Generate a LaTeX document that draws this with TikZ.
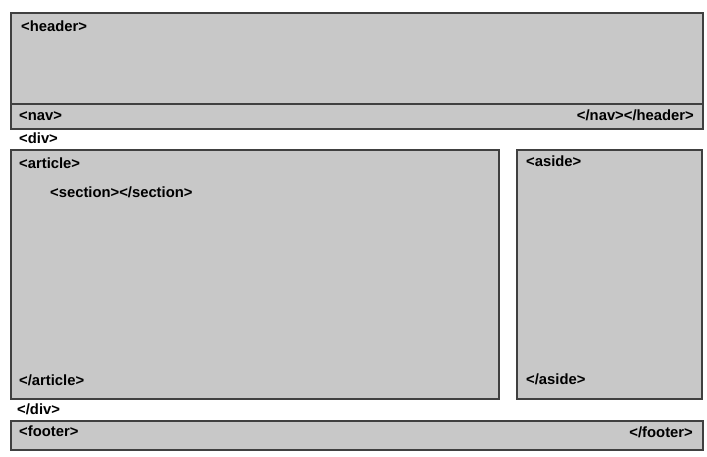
\documentclass[tikz,border=0pt]{standalone}
\usepackage{fontspec}
\setmainfont{Liberation Sans}
\begin{document}
\begin{tikzpicture}[x=1pt,y=-1pt,
  region/.style={draw=boxline, fill=boxfill, line width=1.8pt, inner sep=0pt, anchor=north west},
  tag/.style={font=\fontsize{14.8}{17}\selectfont\bfseries, inner sep=0pt, text=black}]
  \definecolor{boxfill}{HTML}{C8C8C8}
  \definecolor{boxline}{HTML}{404040}
  \useasboundingbox (0,0) rectangle (707,457);
  % page regions
  \node[region, minimum width=692pt, minimum height=91pt] (header) at (10,12) {};
  \node[region, minimum width=692pt, minimum height=25pt] (nav) at (10,103) {};
  \node[region, minimum width=488pt, minimum height=249pt] (article) at (10,149) {};
  \node[region, minimum width=185pt, minimum height=249pt] (aside) at (516,149) {};
  \node[region, minimum width=692pt, minimum height=29pt] (footer) at (10,420) {};
  % opening and closing tags
  \node[tag, anchor=base west] (hopen) at (21,31.5) {<header>};
  \node[tag, anchor=base west] (navopen) at (19,121) {<nav>};
  \node[tag, anchor=base east] (navclose) at (694,121) {</nav></header>};
  \node[tag, anchor=base west] (divopen) at (19,143.5) {<div>};
  \node[tag, anchor=base west] (artopen) at (19,168.5) {<article>};
  \node[tag, anchor=base west] (section) at (50,197.5) {<section></section>};
  \node[tag, anchor=base west] (artclose) at (19,385.5) {</article>};
  \node[tag, anchor=base west] (asopen) at (526,166.5) {<aside>};
  \node[tag, anchor=base west] (asclose) at (526,384.5) {</aside>};
  \node[tag, anchor=base west] (divclose) at (17,414.5) {</div>};
  \node[tag, anchor=base west] (fopen) at (19,436.5) {<footer>};
  \node[tag, anchor=base east] (fclose) at (693,437.5) {</footer>};
\end{tikzpicture}
\end{document}
